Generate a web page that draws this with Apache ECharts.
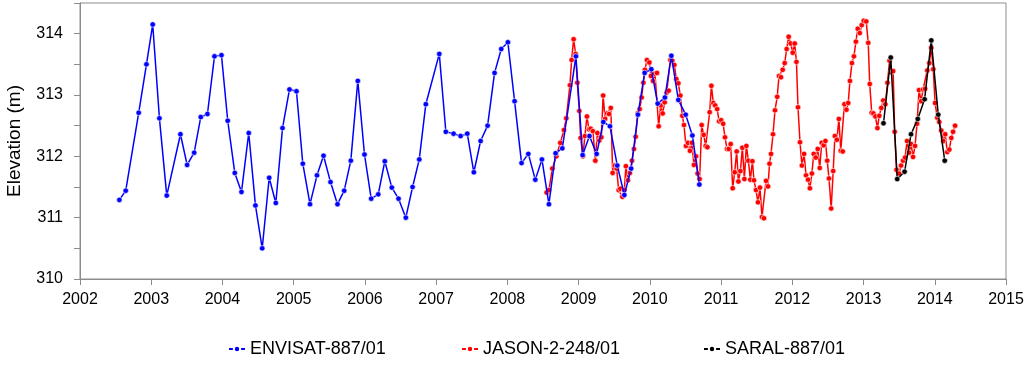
<!DOCTYPE html>
<html>
<head>
<meta charset="utf-8">
<script src="https://cdn.jsdelivr.net/npm/echarts@6/dist/echarts.min.js"></script>
<style>
html,body{margin:0;padding:0;background:#fff;}
#chart{width:1024px;height:386px;}
</style>
</head>
<body>
<div id="chart"></div>
<script>
const xTicks = [2002, 2015, 1];
const yTicks = [310, 314.5, 0.5];
const seriesNames = ['ENVISAT-887/01', 'JASON-2-248/01', 'SARAL-887/01'];

const envisatYears = [2002.553,2002.642,2002.824,2002.933,2003.021,2003.115,2003.218,2003.410,2003.504,2003.603,2003.695,2003.789,2003.888,2003.986,2004.074,2004.173,2004.267,2004.369,2004.463,2004.558,2004.656,2004.749,2004.843,2004.941,2005.039,2005.128,2005.229,2005.327,2005.419,2005.517,2005.615,2005.709,2005.802,2005.900,2005.994,2006.088,2006.187,2006.279,2006.378,2006.472,2006.574,2006.669,2006.763,2006.855,2007.044,2007.136,2007.244,2007.343,2007.437,2007.529,2007.624,2007.722,2007.820,2007.914,2008.007,2008.101,2008.199,2008.294,2008.392,2008.485,2008.583,2008.677,2008.771,2008.962,2009.056,2009.152,2009.253,2009.347,2009.440,2009.543,2009.642,2009.737,2009.833,2009.927,2010.021,2010.110,2010.212,2010.302,2010.400,2010.503,2010.597,2010.695];
const envisatValues = [311.29,311.44,312.71,313.50,314.15,312.62,311.36,312.36,311.86,312.06,312.64,312.69,313.63,313.65,312.58,311.73,311.42,312.38,311.20,310.50,311.65,311.24,312.46,313.09,313.06,311.88,311.22,311.69,312.01,311.58,311.22,311.44,311.93,313.23,312.03,311.31,311.38,311.92,311.49,311.31,311.00,311.50,311.95,312.85,313.67,312.40,312.37,312.33,312.37,311.74,312.25,312.50,313.36,313.75,313.86,312.90,311.89,312.04,311.62,311.95,311.22,312.05,312.13,313.63,312.02,312.33,312.04,312.56,312.49,311.85,311.37,311.80,312.68,313.36,313.42,312.86,312.96,313.64,312.92,312.68,312.34,311.54];

const jasonYears = [2008.551,2008.583,2008.631,2008.687,2008.743,2008.794,2008.827,2008.878,2008.902,2008.930,2008.958,2008.982,2009.010,2009.028,2009.060,2009.088,2009.117,2009.145,2009.169,2009.201,2009.235,2009.263,2009.291,2009.319,2009.344,2009.372,2009.400,2009.428,2009.452,2009.478,2009.506,2009.534,2009.562,2009.586,2009.614,2009.642,2009.664,2009.692,2009.720,2009.749,2009.777,2009.801,2009.829,2009.857,2009.885,2009.909,2009.931,2009.959,2009.993,2010.015,2010.044,2010.072,2010.100,2010.124,2010.152,2010.180,2010.208,2010.236,2010.264,2010.288,2010.316,2010.344,2010.372,2010.400,2010.428,2010.456,2010.479,2010.507,2010.535,2010.563,2010.591,2010.619,2010.647,2010.671,2010.699,2010.728,2010.756,2010.784,2010.808,2010.840,2010.864,2010.892,2010.917,2010.945,2010.973,2011.001,2011.029,2011.055,2011.083,2011.107,2011.135,2011.163,2011.191,2011.219,2011.243,2011.271,2011.299,2011.327,2011.355,2011.383,2011.411,2011.440,2011.462,2011.490,2011.518,2011.546,2011.574,2011.602,2011.631,2011.659,2011.680,2011.701,2011.729,2011.757,2011.788,2011.813,2011.841,2011.865,2011.893,2011.921,2011.949,2011.978,2012.006,2012.034,2012.058,2012.080,2012.108,2012.135,2012.165,2012.193,2012.221,2012.247,2012.275,2012.301,2012.329,2012.357,2012.385,2012.413,2012.441,2012.465,2012.490,2012.515,2012.546,2012.574,2012.598,2012.626,2012.654,2012.680,2012.708,2012.732,2012.760,2012.785,2012.809,2012.837,2012.865,2012.893,2012.919,2012.947,2012.975,2013.003,2013.038,2013.066,2013.087,2013.115,2013.139,2013.167,2013.195,2013.221,2013.249,2013.277,2013.306,2013.336,2013.365,2013.387,2013.416,2013.437,2013.463,2013.499,2013.527,2013.555,2013.583,2013.611,2013.639,2013.667,2013.695,2013.723,2013.751,2013.779,2013.808,2013.836,2013.864,2013.895,2013.923,2013.951,2013.979,2014.004,2014.035,2014.063,2014.091,2014.119,2014.147,2014.176,2014.204,2014.232,2014.257,2014.285];
const jasonValues = [311.41,311.45,311.80,312.00,312.22,312.43,312.62,313.16,313.57,313.91,313.67,313.20,312.74,312.30,312.00,312.33,312.65,312.44,312.45,312.41,311.93,312.38,312.26,312.31,312.99,312.61,312.70,312.69,312.79,311.73,311.85,311.80,311.45,311.47,311.34,311.45,311.84,311.61,311.73,311.93,312.12,312.32,312.70,312.77,312.96,313.20,313.41,313.57,313.53,313.31,313.23,313.35,313.36,312.49,312.83,312.70,312.88,313.04,313.07,313.57,313.56,313.49,313.26,313.19,312.99,312.66,312.51,312.17,312.22,312.09,312.22,311.86,312.00,311.72,311.63,312.51,312.35,312.17,312.15,312.72,313.15,312.87,312.83,312.77,312.57,312.59,312.53,312.31,312.12,312.12,312.20,311.48,311.74,312.08,311.59,311.76,312.14,311.63,312.17,311.93,311.62,311.92,311.61,311.45,311.25,311.49,311.01,310.99,311.60,311.51,311.88,312.04,312.36,312.75,312.97,313.31,313.29,313.41,313.52,313.75,313.95,313.84,313.69,313.84,313.54,312.80,312.23,311.85,312.04,311.69,311.62,311.48,311.72,312.04,311.98,312.12,311.81,312.22,312.18,312.25,311.93,311.64,311.15,311.76,312.33,312.27,312.61,312.09,312.08,312.85,312.76,312.87,313.23,313.52,313.63,313.87,314.08,314.01,314.14,314.21,314.20,313.85,313.18,312.71,312.70,312.65,312.46,312.66,312.79,312.91,312.85,313.20,313.56,313.37,313.39,312.40,311.78,311.72,311.85,311.93,311.98,312.25,312.06,312.20,311.99,312.17,312.53,313.08,312.90,313.09,313.10,313.40,313.52,313.77,313.42,312.87,312.63,312.56,312.42,312.25,312.36,312.07,312.11,312.30,312.40,312.50];

const saralYears = [2013.280,2013.382,2013.473,2013.576,2013.667,2013.761,2013.857,2013.951,2014.049,2014.140];
const saralValues = [312.54,313.61,311.63,311.75,312.36,312.61,312.93,313.89,312.68,311.93];

function pairs(xs, ys) {
  const n = Math.min(xs.length, ys.length);
  const out = [];
  for (let i = 0; i < n; i++) out.push([xs[i], ys[i]]);
  return out;
}

const FONT = "'Liberation Sans', Arial, sans-serif";
const AXIS_COLOR = '#8c8c8c';

const chart = echarts.init(document.getElementById('chart'), null, {renderer: 'canvas'});

function lineSeries(name, color, data, z) {
  return {
    name: name,
    type: 'line',
    data: data,
    z: z,
    symbol: 'circle',
    symbolSize: 5.5,
    showSymbol: true,
    animation: false,
    lineStyle: {color: color, width: 1.5},
    itemStyle: {color: color, borderColor: '#ffffff', borderWidth: 0.6},
    emphasis: {disabled: true}
  };
}

function legendAt(name, left) {
  return {
    data: [name],
    left: left,
    top: 335,
    itemWidth: 16,
    itemHeight: 8,
    itemGap: 4,
    textStyle: {fontFamily: FONT, fontSize: 18, color: '#000'},
    selectedMode: false
  };
}

chart.setOption({
  animation: false,
  backgroundColor: '#ffffff',
  grid: {
    left: 80, right: 18, top: 3, bottom: 107,
    show: true, borderColor: AXIS_COLOR, borderWidth: 1,
    containLabel: false, outerBoundsMode: 'none'
  },
  legend: [
    legendAt(seriesNames[0], 223),
    legendAt(seriesNames[1], 456),
    legendAt(seriesNames[2], 698)
  ],
  xAxis: {
    type: 'value',
    min: xTicks[0], max: xTicks[1], interval: xTicks[2],
    axisLine: {show: true, lineStyle: {color: AXIS_COLOR, width: 1}},
    axisTick: {show: true, inside: false, length: 6, lineStyle: {color: AXIS_COLOR}},
    splitLine: {show: false},
    axisLabel: {
      margin: 13,
      fontFamily: FONT, fontSize: 16, color: '#000',
      formatter: function (v) { return String(Math.round(v)); }
    }
  },
  yAxis: {
    type: 'value',
    min: yTicks[0], max: yTicks[1], interval: yTicks[2],
    name: 'Elevation (m)',
    nameLocation: 'middle',
    nameGap: 56,
    nameTextStyle: {fontFamily: FONT, fontSize: 19, color: '#000'},
    axisLine: {show: true, lineStyle: {color: AXIS_COLOR, width: 1}},
    axisTick: {show: true, inside: false, length: 6, lineStyle: {color: AXIS_COLOR}},
    splitLine: {show: false},
    axisLabel: {
      margin: 17,
      fontFamily: FONT, fontSize: 16, color: '#000',
      formatter: function (v) {
        return (Math.abs(v - Math.round(v)) < 1e-6) ? String(Math.round(v)) : '';
      }
    }
  },
  series: [
    lineSeries(seriesNames[1], '#ff0000', pairs(jasonYears, jasonValues), 2),
    lineSeries(seriesNames[0], '#0000ff', pairs(envisatYears, envisatValues), 3),
    lineSeries(seriesNames[2], '#000000', pairs(saralYears, saralValues), 4)
  ]
});
</script>
</body>
</html>
